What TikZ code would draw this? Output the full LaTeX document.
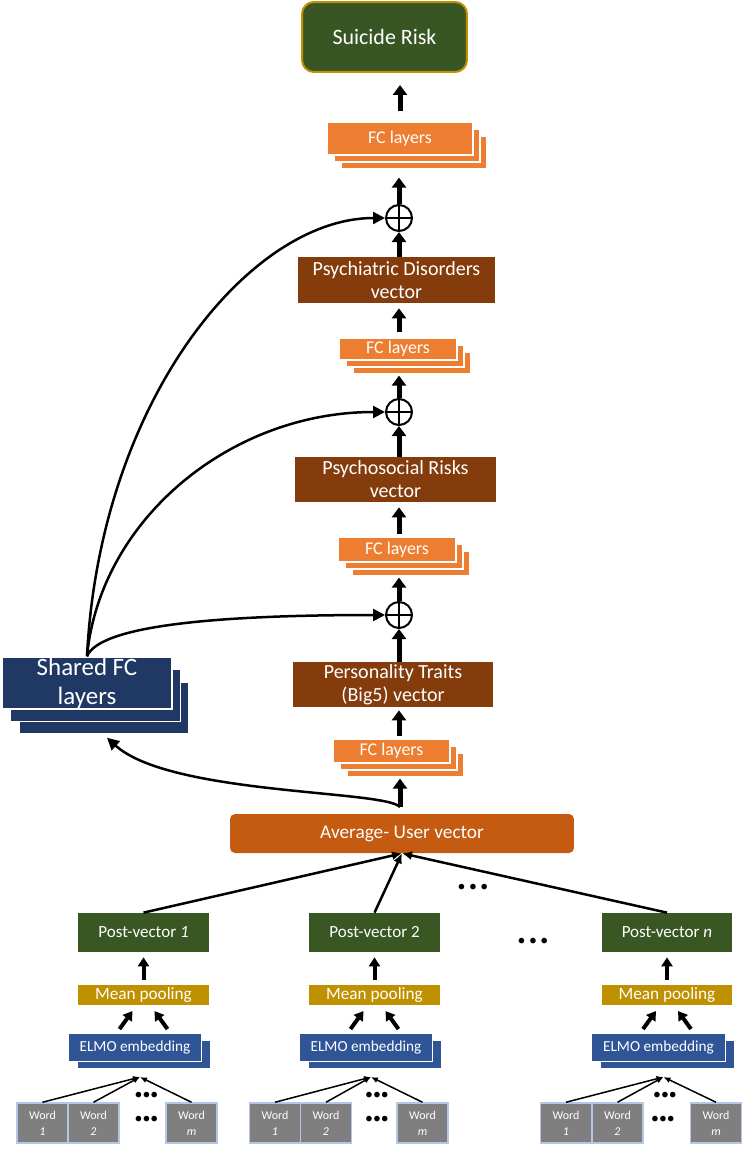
\documentclass[tikz,border=0pt]{standalone}
\usepackage{fontspec}
\setmainfont{Carlito}
\usetikzlibrary{arrows.meta,positioning,shadows}
\definecolor{riskgreen}{HTML}{375623}
\definecolor{riskgold}{HTML}{BF9000}
\definecolor{fcorange}{HTML}{ED7D31}
\definecolor{vecbrown}{HTML}{843C0C}
\definecolor{avgorange}{HTML}{C55A11}
\definecolor{sharednavy}{HTML}{203864}
\definecolor{postgreen}{HTML}{385723}
\definecolor{poolgold}{HTML}{BF9000}
\definecolor{elmoblue}{HTML}{2F5597}
\definecolor{wordgrey}{HTML}{7F7F7F}
\definecolor{wordedge}{HTML}{B4C7E7}
\tikzset{
	fcstack/.style={rectangle, fill=fcorange, draw=white, line width=0.25mm, text=white,
		inner sep=0pt, font=\fontsize{10.2}{12}\selectfont,
		copy shadow={shadow xshift=2.8mm, shadow yshift=-2.8mm, fill=fcorange, draw=white},
		copy shadow={shadow xshift=1.4mm, shadow yshift=-1.4mm, fill=fcorange, draw=white}},
	vecbox/.style={rectangle, fill=vecbrown, text=white, inner sep=0pt, align=center,
		minimum height=0.9cm, font=\fontsize{11.4}{13}\selectfont},
	postbox/.style={rectangle, fill=postgreen, text=white, inner sep=0pt,
		minimum width=2.62cm, minimum height=0.78cm, font=\fontsize{9.7}{11}\selectfont},
	poolbox/.style={rectangle, fill=poolgold, text=white, inner sep=0pt,
		minimum width=2.62cm, minimum height=0.4cm, font=\fontsize{9.8}{11}\selectfont},
	elmobox/.style={rectangle, fill=elmoblue, draw=white, line width=0.2mm, text=white, inner sep=0pt,
		minimum width=2.68cm, minimum height=0.56cm, font=\fontsize{8.7}{10}\selectfont,
		copy shadow={shadow xshift=1.8mm, shadow yshift=-1.3mm, fill=elmoblue, draw=white}},
	wordbox/.style={rectangle, fill=wordgrey, draw=wordedge, line width=0.3mm, text=white,
		inner sep=0pt, align=center, minimum width=1.02cm, minimum height=0.8cm,
		font=\fontsize{6.8}{9}\selectfont},
	plusnode/.style={circle, draw=black, line width=0.4mm, minimum size=0.52cm, inner sep=0pt,
		path picture={\draw[line width=0.3mm] (path picture bounding box.north) -- (path picture bounding box.south)
			(path picture bounding box.west) -- (path picture bounding box.east);}},
	bigarr/.style={-{Triangle[length=2mm,width=2.8mm]}, line width=1mm},
	midarr/.style={-{Triangle[length=1.8mm,width=2.2mm]}, line width=0.8mm},
	curvearr/.style={-{Triangle[length=2.4mm,width=2.4mm]}, line width=0.5mm},
	thinarr/.style={-{Latex[length=2mm,width=1.8mm]}, line width=0.5mm},
	wordarr/.style={-{Latex[length=1.4mm,width=1.2mm]}, line width=0.3mm},
	dotrow/.style={inner sep=0pt, font=\fontsize{9}{9}\selectfont}
}
\begin{document}
\begin{tikzpicture}[x=0.02cm, y=-0.02cm]
	\useasboundingbox[fill=white] (0,0) rectangle (743,1150);
	% main column
	\node[rectangle, rounded corners=2.4mm, fill=riskgreen, draw=riskgold, line width=0.4mm, text=white,
		minimum width=3.3cm, minimum height=1.4cm, font=\fontsize{12.5}{14}\selectfont] (risk) at (384.5,37) {Suicide Risk};
	\node[fcstack, minimum width=2.92cm, minimum height=0.66cm] (fcA) at (400,138.5) {FC layers};
	\node[plusnode] (plusA) at (399,218) {};
	\node[vecbox, minimum width=3.94cm, minimum height=0.92cm] (psych) at (396.5,280) {Psychiatric Disorders\\vector};
	\node[fcstack, minimum width=2.36cm, minimum height=0.44cm] (fcB) at (398,349) {FC layers};
	\node[plusnode] (plusB) at (399,412) {};
	\node[vecbox, minimum width=4.02cm] (psoc) at (395.5,479.5) {Psychosocial Risks\\vector};
	\node[fcstack, minimum width=2.36cm, minimum height=0.5cm] (fcC) at (397,549.5) {FC layers};
	\node[plusnode] (plusC) at (399,615) {};
	\node[vecbox, minimum width=4cm] (pers) at (393,684.5) {Personality Traits\\(Big5) vector};
	\node[fcstack, minimum width=2.34cm, minimum height=0.48cm] (fcD) at (391.5,751) {FC layers};
	\node[rectangle, rounded corners=1mm, fill=avgorange, text=white, minimum width=6.88cm, minimum height=0.78cm,
		font=\fontsize{11}{13}\selectfont] (avg) at (402,833.5) {Average- User vector};
	\node[rectangle, fill=sharednavy, draw=white, line width=0.3mm, text=white, align=center, inner sep=0pt,
		minimum width=3.4cm, minimum height=1.04cm, font=\fontsize{14.2}{16.5}\selectfont,
		copy shadow={shadow xshift=3.4mm, shadow yshift=-5mm, fill=sharednavy, draw=white},
		copy shadow={shadow xshift=1.7mm, shadow yshift=-2.5mm, fill=sharednavy, draw=white}] (shared) at (87,683) {Shared FC\\layers};
	\coordinate (fork) at (400,807);

	\draw[bigarr, shorten <=2mm, shorten >=2.4mm] (fcA.north) -- (fcA.north |- risk.south);
	\draw[bigarr, shorten >=4.4mm] (plusA.north) -- (plusA.north |- fcA.south);
	\draw[bigarr] (plusA.south |- psych.north) -- (plusA.south);
	\draw[bigarr, shorten <=1mm, shorten >=1mm] (plusA |- fcB.north) -- (plusA |- psych.south);
	\draw[bigarr, shorten >=3mm] (plusB.north) -- (plusB |- fcB.south);
	\draw[bigarr] (plusB |- psoc.north) -- (plusB.south);
	\draw[bigarr, shorten <=0.4mm, shorten >=1mm] (plusB |- fcC.north) -- (plusB |- psoc.south);
	\draw[bigarr, shorten >=3mm] (plusC.north) -- (plusC |- fcC.south);
	\draw[bigarr] (plusC |- pers.north) -- (plusC.south);
	\draw[bigarr, shorten <=0.4mm, shorten >=0.6mm] (plusC |- fcD.north) -- (plusC |- pers.south);
	\draw[bigarr, shorten >=3mm] (fork) -- (fork |- fcD.south);

	% shared layers
	\draw[curvearr] (shared.north) .. controls (100,400) and (250,218) .. (plusA.west);
	\draw[curvearr] (shared.north) .. controls (100,520) and (230,412) .. (plusB.west);
	\draw[curvearr] (shared.north) .. controls (100,625) and (220,615) .. (plusC.west);
	\draw[curvearr] (fork) .. controls (385,790) and (170,795) .. ([shift={(20,28)}]shared.south);

	% posts
	\node[postbox] (post1) at (143.5,932.5) {Post-vector \textit{1}};
	\node[poolbox, below=0.64cm of post1] (pool1) {Mean pooling};
	\node[elmobox, below=0.56cm of pool1, xshift=-0.17cm] (elmo1) {ELMO embedding};
	\node[postbox] (post2) at (374.5,932.5) {Post-vector 2};
	\node[poolbox, below=0.64cm of post2] (pool2) {Mean pooling};
	\node[elmobox, below=0.56cm of pool2, xshift=-0.17cm] (elmo2) {ELMO embedding};
	\node[postbox] (postn) at (667,932.5) {Post-vector \textit{n}};
	\node[poolbox, below=0.64cm of postn] (pooln) {Mean pooling};
	\node[elmobox, below=0.56cm of pooln, xshift=-0.17cm] (elmon) {ELMO embedding};

	\node[wordbox] (w11) at (42.5,1123) {Word\\\textit{1}};
	\node[wordbox] (w12) at (93.5,1123) {Word\\\textit{2}};
	\node[wordbox] (w1m) at (191.5,1123) {Word\\\textit{m}};
	\node[wordbox] (w21) at (275,1123) {Word\\\textit{1}};
	\node[wordbox] (w22) at (326,1123) {Word\\\textit{2}};
	\node[wordbox] (w2m) at (422.5,1123) {Word\\\textit{m}};
	\node[wordbox] (wn1) at (566,1123) {Word\\\textit{1}};
	\node[wordbox] (wn2) at (617.5,1123) {Word\\\textit{2}};
	\node[wordbox] (wnm) at (716,1123) {Word\\\textit{m}};

	\node[dotrow] (d1a) at (146.5,1096) {\textbullet\textbullet\textbullet};
	\node[dotrow] (d1b) at (146.5,1120) {\textbullet\textbullet\textbullet};
	\node[dotrow] (d2a) at (377,1096) {\textbullet\textbullet\textbullet};
	\node[dotrow] (d2b) at (377,1120) {\textbullet\textbullet\textbullet};
	\node[dotrow] (dna) at (665,1096) {\textbullet\textbullet\textbullet};
	\node[dotrow] (dnb) at (663,1120) {\textbullet\textbullet\textbullet};
	\node[dotrow] (dtop) at (473,888) {\textbullet\hspace{2pt}\textbullet\hspace{2pt}\textbullet};
	\node[dotrow] (dmid) at (533,942) {\textbullet\hspace{2pt}\textbullet\hspace{2pt}\textbullet};

	\draw[thinarr] (post1.north) -- (avg.south);
	\draw[thinarr] (post2.north) -- (avg.south);
	\draw[thinarr] (postn.north) -- (avg.south);

	\draw[midarr, shorten <=0.9mm, shorten >=1mm] (pool1.north) -- (post1.south);
	\draw[midarr] ([shift={(-24,24)}]pool1.south) -- ([shift={(-11,6)}]pool1.south);
	\draw[midarr] ([shift={(24,24)}]pool1.south) -- ([shift={(11,6)}]pool1.south);
	\draw[midarr, shorten <=0.9mm, shorten >=1mm] (pool2.north) -- (post2.south);
	\draw[midarr] ([shift={(-24,24)}]pool2.south) -- ([shift={(-11,6)}]pool2.south);
	\draw[midarr] ([shift={(24,24)}]pool2.south) -- ([shift={(11,6)}]pool2.south);
	\draw[midarr, shorten <=0.9mm, shorten >=1mm] (pooln.north) -- (postn.south);
	\draw[midarr] ([shift={(-24,24)}]pooln.south) -- ([shift={(-11,6)}]pooln.south);
	\draw[midarr] ([shift={(24,24)}]pooln.south) -- ([shift={(11,6)}]pooln.south);

	\draw[wordarr] (w11.north) -- ([shift={(5,15)}]elmo1.south);
	\draw[wordarr] (w12.north) -- ([shift={(5,15)}]elmo1.south);
	\draw[wordarr] (w1m.north) -- ([shift={(5,15)}]elmo1.south);
	\draw[wordarr] (w21.north) -- ([shift={(5,15)}]elmo2.south);
	\draw[wordarr] (w22.north) -- ([shift={(5,15)}]elmo2.south);
	\draw[wordarr] (w2m.north) -- ([shift={(5,15)}]elmo2.south);
	\draw[wordarr] (wn1.north) -- ([shift={(5,15)}]elmon.south);
	\draw[wordarr] (wn2.north) -- ([shift={(5,15)}]elmon.south);
	\draw[wordarr] (wnm.north) -- ([shift={(5,15)}]elmon.south);
\end{tikzpicture}
\end{document}
